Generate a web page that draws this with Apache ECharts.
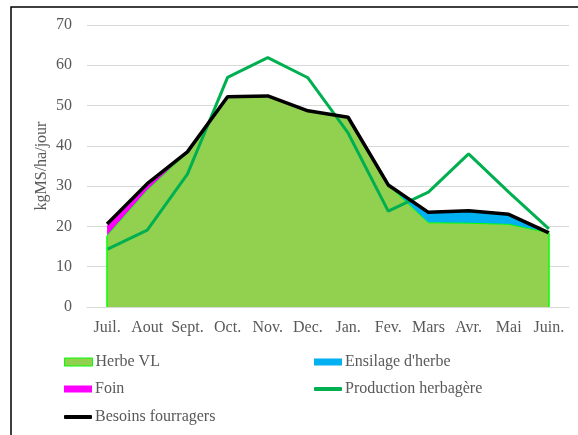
<!DOCTYPE html>
<html>
<head>
<meta charset="utf-8">
<script src="https://cdn.jsdelivr.net/npm/echarts@6/dist/echarts.min.js"></script>
<style>
  html, body { margin: 0; padding: 0; background: #fff; }
  #chart { width: 578px; height: 435px; }
</style>
</head>
<body>
<div id="chart"></div>
<script>
// Months of the forage year (July to June)
const months = ['Juil.', 'Aout', 'Sept.', 'Oct.', 'Nov.', 'Dec.', 'Jan.', 'Fev.', 'Mars', 'Avr.', 'Mai', 'Juin.'];

// Stacked feed sources, kgMS/ha/jour
const herbeVL   = [17.7, 29.0, 38.3, 52.2, 52.4, 48.7, 47.1, 30.2, 20.9, 20.8, 20.5, 18.4];
const foin      = [2.5, 1.6, 0.2, 0, 0, 0, 0, 0, 0, 0, 0, 0];
const ensilage  = [0, 0, 0, 0, 0, 0, 0, 0, 2.6, 3.1, 2.5, 0];

// Grass growth and herd requirement, kgMS/ha/jour
const production = [14.3, 19.1, 33.0, 57.0, 61.9, 56.9, 43.2, 23.8, 28.5, 38.0, 28.5, 19.4];
const besoins    = [20.6, 30.6, 38.5, 52.2, 52.4, 48.7, 47.1, 30.3, 23.5, 23.9, 23.0, 18.4];

// Y axis ticks
const yMin = 0, yMax = 70, yStep = 10;

const serif = "'Liberation Serif', 'Times New Roman', serif";
const grey = '#595959';

function legendItem(name, left, top, icon, h, itemStyle) {
  const d = { name: name, icon: icon };
  if (itemStyle) d.itemStyle = itemStyle;
  return {
    left: left, top: top,
    itemWidth: 28, itemHeight: h, itemGap: 0,
    selectedMode: false,
    textStyle: { fontFamily: serif, fontSize: 16, color: grey, padding: [0, 0, 0, -2] },
    data: [d]
  };
}

const chart = echarts.init(document.getElementById('chart'), null, { renderer: 'canvas' });
chart.setOption({
  animation: false,
  backgroundColor: '#fff',
  graphic: [{
    type: 'polyline',
    silent: true,
    shape: { points: [[11, 440], [11, 7], [590, 7]] },
    style: { stroke: '#000', lineWidth: 1.5, fill: null }
  }],
  grid: { left: 87, right: 9, top: 25, bottom: 128 },
  legend: [
    legendItem('Herbe VL', 59, 349, 'rect', 8, { color: '#92D050', borderColor: '#00FF00', borderWidth: 1 }),
    legendItem("Ensilage d'herbe", 309, 349, 'rect', 7),
    legendItem('Foin', 59, 376, 'rect', 7),
    legendItem('Production herbagère', 309, 376, 'roundRect', 4),
    legendItem('Besoins fourragers', 59, 404, 'roundRect', 4)
  ],
  xAxis: {
    type: 'category',
    data: months,
    boundaryGap: true,
    axisLine: { show: true, lineStyle: { color: '#D9D9D9', width: 1 } },
    axisTick: { show: false },
    axisLabel: { fontFamily: serif, fontSize: 16, color: grey, margin: 13, interval: 0 }
  },
  yAxis: {
    type: 'value',
    min: yMin, max: yMax, interval: yStep,
    name: 'kgMS/ha/jour',
    nameLocation: 'middle',
    nameGap: 37,
    nameMoveOverlap: false,
    nameTextStyle: { fontFamily: serif, fontSize: 16, color: grey },
    axisLine: { show: false },
    axisTick: { show: false },
    axisLabel: { fontFamily: serif, fontSize: 16, color: grey, margin: 15 },
    splitLine: { lineStyle: { color: '#D9D9D9', width: 1 } }
  },
  series: [
    {
      name: 'Herbe VL', type: 'line', stack: 'feed', data: herbeVL,
      symbol: 'none', z: 2,
      itemStyle: { color: '#92D050' },
      lineStyle: { color: '#00FF00', width: 1 },
      areaStyle: { color: '#92D050', opacity: 1 },
      markLine: {
        silent: true, symbol: 'none', label: { show: false },
        lineStyle: { color: '#00FF00', width: 1.5, type: 'solid' },
        data: [
          [{ coord: [months[0], 0] }, { coord: [months[0], herbeVL[0]] }],
          [{ coord: [months[months.length - 1], 0] }, { coord: [months[months.length - 1], herbeVL[herbeVL.length - 1]] }]
        ]
      }
    },
    {
      name: 'Foin', type: 'line', stack: 'feed', data: foin,
      symbol: 'none', z: 2,
      itemStyle: { color: '#FF00FF' },
      lineStyle: { width: 0 },
      areaStyle: { color: '#FF00FF', opacity: 1 }
    },
    {
      name: "Ensilage d'herbe", type: 'line', stack: 'feed', data: ensilage,
      symbol: 'none', z: 2,
      itemStyle: { color: '#00B0F0' },
      lineStyle: { width: 0 },
      areaStyle: { color: '#00B0F0', opacity: 1 }
    },
    {
      name: 'Production herbagère', type: 'line', data: production,
      symbol: 'none', z: 3,
      itemStyle: { color: '#00B050' },
      lineStyle: { color: '#00B050', width: 3 }
    },
    {
      name: 'Besoins fourragers', type: 'line', data: besoins,
      symbol: 'none', z: 4,
      itemStyle: { color: '#000000' },
      lineStyle: { color: '#000000', width: 3.5 }
    }
  ]
});
</script>
</body>
</html>
